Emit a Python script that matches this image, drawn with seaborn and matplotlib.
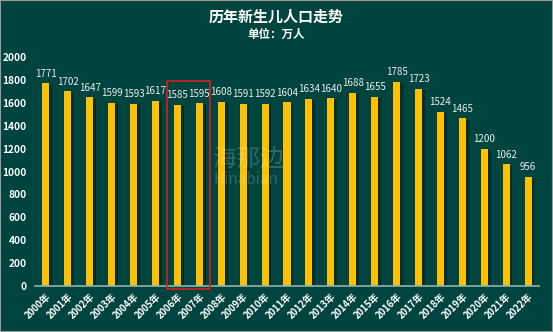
import matplotlib
matplotlib.use("Agg")
import matplotlib.pyplot as plt
import matplotlib.patheffects as pe
from matplotlib.patches import Rectangle
import seaborn as sns
import pandas as pd

years = [f"{y}年" for y in range(2000, 2023)]
births = [1771, 1702, 1647, 1599, 1593, 1617, 1585, 1595, 1608, 1591, 1592, 1604,
          1634, 1640, 1688, 1655, 1785, 1723, 1524, 1465, 1200, 1062, 956]
yticks = list(range(0, 2001, 200))

BG = "#00443f"
BAR = "#ffc000"

sns.set_theme(style="white")
plt.rcParams['font.family'] = ['Noto Sans CJK SC', 'DejaVu Sans']

df = pd.DataFrame({"year": years, "births": births})

fig = plt.figure(figsize=(5.53, 3.32), dpi=100, facecolor=BG)
ax = fig.add_axes([35/553, 1-286/332, (539-35)/553, (286-57)/332])
ax.set_facecolor(BG)

sns.barplot(data=df, x="year", y="births", color=BAR, width=0.32, ax=ax,
            saturation=1, edgecolor="none")
for p in ax.patches:
    p.set_path_effects([pe.SimplePatchShadow(offset=(2, -1), shadow_rgbFace="black", alpha=0.35),
                        pe.Normal()])

for i, v in enumerate(births):
    ax.text(i, v + 40, str(v), ha="center", va="bottom", color="#eeeeee",
            fontsize=7, fontweight="medium")

ax.set_xlim(-0.5, len(years) - 0.5)
ax.set_ylim(0, 2000)
ax.set_yticks(yticks)
ax.set_yticklabels([str(t) for t in yticks], color="white", fontsize=7.3, fontweight="semibold")
ax.set_xticks(range(len(years)))
ax.set_xticklabels(years, rotation=45, ha="right", rotation_mode="anchor",
                   color="white", fontsize=6.8, fontweight="semibold")
ax.tick_params(axis="both", length=0)
ax.tick_params(axis="y", pad=6)
ax.tick_params(axis="x", pad=4)
ax.set_xlabel("")
ax.set_ylabel("")
for s in ["top", "right", "left"]:
    ax.spines[s].set_visible(False)
ax.spines["bottom"].set_color("#8fb3ad")
ax.spines["bottom"].set_linewidth(1.2)
ax.grid(False)

rect = Rectangle((5.52, -26), 1.97, 1816, fill=False, edgecolor="#d42020",
                 linewidth=1.2, clip_on=False, zorder=5)
ax.add_patch(rect)

# watermark
fig.text(0.45, 1-160/332, "海那边", color="white", alpha=0.2, fontsize=17,
         ha="center", va="center")
fig.text(0.445, 1-180/332, "Hinabian", color="white", alpha=0.2, fontsize=11,
         ha="center", va="center")

fig.text(0.5, 1-17/332, "历年新生儿人口走势", color="white", fontsize=10.8,
         fontweight="bold", ha="center", va="center")
fig.text(0.5, 1-34/332, "单位：万人", color="white", fontsize=8.3,
         fontweight="bold", ha="center", va="center")

fig.patches.append(Rectangle((0, 0), 1, 1, transform=fig.transFigure, fill=False,
                             edgecolor="#9a9a9a", linewidth=1.5))

fig.savefig("out.png", dpi=100, facecolor=BG)
